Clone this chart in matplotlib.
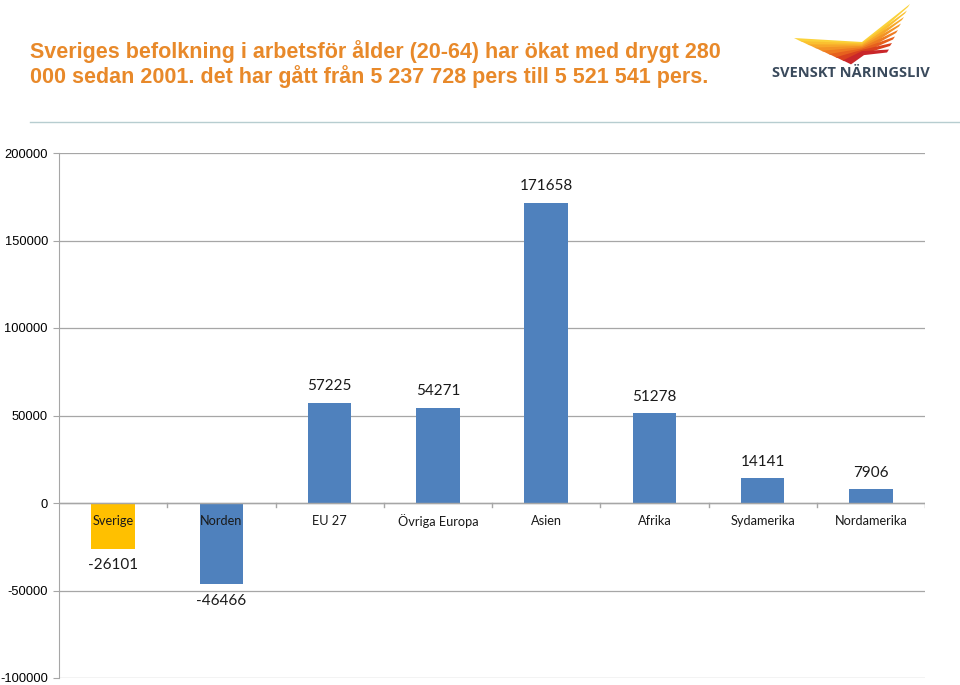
import numpy as np
import matplotlib.pyplot as plt
from matplotlib.patches import Polygon

categories = ['Sverige', 'Norden', 'EU 27', 'Övriga Europa', 'Asien', 'Afrika', 'Sydamerika', 'Nordamerika']
values = [-26101, -46466, 57225, 54271, 171658, 51278, 14141, 7906]
y_ticks = [-100000, -50000, 0, 50000, 100000, 150000, 200000]

title = ('Sveriges befolkning i arbetsför ålder (20-64) har ökat med drygt 280\n'
         '000 sedan 2001. det har gått från 5 237 728 pers till 5 521 541 pers.')

BLUE = '#4F81BD'
YELLOW = '#FFC000'
GRID = '#A6A6A6'
TXT_FONT = ['Lato', 'DejaVu Sans']

fig = plt.figure(figsize=(9.6, 6.85), dpi=100)

# title
fig.text(30 / 960, 1 - 40 / 685, title, ha='left', va='top', fontsize=15.5,
         fontweight='bold', color='#E8892A', linespacing=1.12,
         family=['Liberation Sans Narrow', 'Liberation Sans', 'DejaVu Sans'])

# thin separator line under the header
fig.add_artist(plt.Line2D([30 / 960, 1.0], [1 - 122 / 685] * 2, color='#B7CDD0', lw=1))

# logo: wing strokes + name
lg = fig.add_axes([770 / 960, 1 - 90 / 685, 190 / 960, 90 / 685])
lg.set_xlim(0, 190)
lg.set_ylim(90, 0)
lg.axis('off')
wing_cols = ['#FBD23A', '#FAC030', '#F7A82A', '#F39325', '#EE7B22', '#E6611E', '#D9411E', '#C9262A']
for i, c in enumerate(wing_cols):
    tip_x = 140 - i * 3
    tip_y = 4 + i * 6.5
    pts = [(24 + i * 7, 38 + i * 3.2), (92, 42 + i * 1.3), (tip_x, tip_y), (tip_x - 2, tip_y + 3),
           (94, 46 + i * 1.3), (32 + i * 7, 42 + i * 3.2)]
    lg.add_patch(Polygon(pts, closed=True, color=c, lw=0))
lg.text(2, 73, 'SVENSKT NÄRINGSLIV', fontsize=10.5, fontweight='bold', color='#3A4A5C',
        va='center', ha='left', family=['Open Sans', 'DejaVu Sans'])

# main chart
ax = fig.add_axes([59 / 960, 1 - 678 / 685, 866 / 960, 525 / 685])
x = np.arange(len(categories))
colors = [YELLOW] + [BLUE] * (len(categories) - 1)
ax.bar(x, values, width=0.4, color=colors, zorder=2)

ax.set_xlim(-0.5, len(categories) - 0.5)
ax.set_ylim(-100000, 200000)
ax.set_yticks(y_ticks)
ax.set_yticklabels([str(v) for v in y_ticks], fontsize=9.3, family=['Liberation Sans', 'DejaVu Sans'])
ax.yaxis.grid(True, color=GRID, lw=0.9, zorder=0)
ax.tick_params(axis='y', length=4, color=GRID, pad=4)
ax.set_xticks([])

for s in ['top', 'right', 'bottom']:
    ax.spines[s].set_visible(False)
ax.spines['left'].set_color(GRID)

# zero line with category tick marks
ax.axhline(0, color=GRID, lw=1, zorder=3)
for b in np.arange(0.5, len(categories) - 0.5, 1):
    ax.plot([b, b], [0, -2500], color=GRID, lw=1, zorder=3)
ax.plot([len(categories) - 0.5] * 2, [0, -2500], color=GRID, lw=1, zorder=3)

# category labels just under the zero line
for xi, name in zip(x, categories):
    ax.text(xi, -10500, name, ha='center', va='center', fontsize=9.2, color='#1A1A1A',
            family=TXT_FONT, zorder=4)

# value labels
for xi, v in zip(x, values):
    if v >= 0:
        ax.text(xi, v + 5500, str(v), ha='center', va='bottom', fontsize=11,
                color='#1A1A1A', family=TXT_FONT)
    else:
        ax.text(xi, v - 5500, str(v), ha='center', va='top', fontsize=11,
                color='#1A1A1A', family=TXT_FONT)

fig.savefig('out.png', dpi=100)
